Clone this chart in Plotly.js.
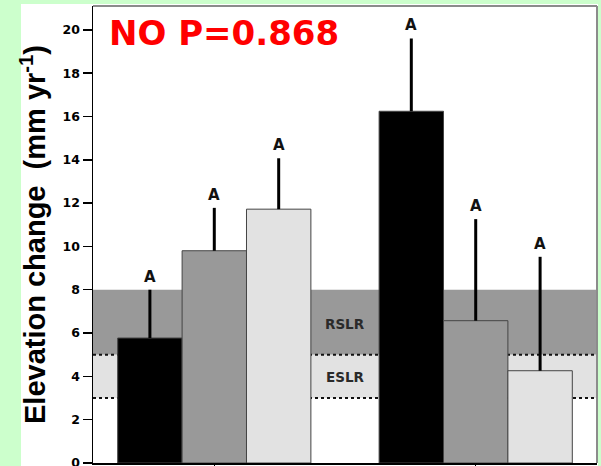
<!DOCTYPE html>
<html>
<head>
<meta charset="utf-8">
<script src="https://cdn.plot.ly/plotly-3.0.1.min.js"></script>
<style>
  html, body { margin: 0; padding: 0; background: #ccffcc; }
  #wrap { position: relative; width: 601px; height: 466px; overflow: hidden; }
  #panel { position: absolute; left: 21px; top: 4px; width: 577px; height: 462px; background: #ffffff; }
  #chart { position: absolute; left: 0; top: 0; width: 601px; height: 490px; }
</style>
</head>
<body>
<div id="wrap">
  <div id="panel"></div>
  <div id="chart"></div>
</div>
<script>
// Two site groups, three treatments each (black, dark grey, light grey)
const groups = [0, 1];
const seriesNames = ['Treatment 1', 'Treatment 2', 'Treatment 3'];
const seriesColors = ['#000000', '#999999', '#e2e2e2'];
const meanT1 = [5.77, 16.24];
const meanT2 = [9.80, 6.57];
const meanT3 = [11.72, 4.26];
const errT1 = [2.23, 3.36];
const errT2 = [1.98, 4.69];
const errT3 = [2.35, 5.26];
const letters = [['A', 'A'], ['A', 'A'], ['A', 'A']];
const yTicks = [0, 2, 4, 6, 8, 10, 12, 14, 16, 18, 20];
// sea-level-rise reference bands
const rslrBand = [5, 8];
const eslrBand = [3, 5];
const titleText = 'NO P=0.868';

const means = [meanT1, meanT2, meanT3];
const errs = [errT1, errT2, errT3];
const bargap = 0.261;
const barW = (1 - bargap) / 3;

const traces = means.map((m, i) => ({
  type: 'bar',
  name: seriesNames[i],
  x: groups,
  y: m,
  marker: { color: seriesColors[i], line: { color: '#444444', width: 1 } },
  error_y: {
    type: 'data', symmetric: false, array: errs[i],
    arrayminus: m.map(() => 0), width: 0, thickness: 3, color: '#000000'
  },
  hoverinfo: 'skip'
}));

const annotations = [];
means.forEach((m, i) => {
  m.forEach((v, g) => {
    annotations.push({
      x: groups[g] + (i - 1) * barW, y: v + errs[i][g],
      xref: 'x', yref: 'y', text: '<b>' + letters[i][g] + '</b>', showarrow: false,
      yshift: 13, font: { family: 'DejaVu Sans', size: 15, color: '#111111' }
    });
  });
});
annotations.push({
  x: 0.5, y: (rslrBand[0] + rslrBand[1]) / 2 - 0.1, xref: 'x', yref: 'y', text: '<b>RSLR</b>',
  showarrow: false, font: { family: 'DejaVu Sans', size: 13.5, color: '#2a2a2a' }
});
annotations.push({
  x: 0.5, y: (eslrBand[0] + eslrBand[1]) / 2 - 0.05, xref: 'x', yref: 'y', text: '<b>ESLR</b>',
  showarrow: false, font: { family: 'DejaVu Sans', size: 13.5, color: '#2a2a2a' }
});
annotations.push({
  x: 0.028, y: 0.941, xref: 'paper', yref: 'paper', yanchor: 'middle', xanchor: 'left',
  text: '<b>' + titleText + '</b>', showarrow: false,
  font: { family: 'DejaVu Sans', size: 34, color: '#ff0000' }
});

const shapes = [
  { type: 'rect', xref: 'paper', x0: 0, x1: 1, yref: 'y', y0: rslrBand[0], y1: rslrBand[1],
    fillcolor: '#999999', line: { width: 0 }, layer: 'below' },
  { type: 'rect', xref: 'paper', x0: 0, x1: 1, yref: 'y', y0: eslrBand[0], y1: eslrBand[1],
    fillcolor: '#e2e2e2', line: { width: 0 }, layer: 'below' },
  { type: 'line', xref: 'paper', x0: 0, x1: 1, yref: 'y', y0: eslrBand[0], y1: eslrBand[0],
    line: { color: '#111111', width: 2, dash: 'dot' }, layer: 'below' },
  { type: 'line', xref: 'paper', x0: 0, x1: 1, yref: 'y', y0: eslrBand[1], y1: eslrBand[1],
    line: { color: '#111111', width: 2, dash: 'dot' }, layer: 'below' },
  // grey frame along top and right
  { type: 'line', xref: 'paper', yref: 'paper', x0: 0, x1: 1, y0: 1, y1: 1,
    line: { color: '#8c8c8c', width: 2 } },
  { type: 'line', xref: 'paper', yref: 'paper', x0: 1, x1: 1, y0: 0, y1: 1,
    line: { color: '#8c8c8c', width: 2 } }
];

const layout = {
  width: 601, height: 490,
  margin: { l: 93, r: 4, t: 6, b: 27 },
  paper_bgcolor: 'rgba(0,0,0,0)',
  plot_bgcolor: '#ffffff',
  barmode: 'group',
  bargap: bargap,
  bargroupgap: 0,
  showlegend: false,
  xaxis: {
    type: 'linear', range: [-0.464, 1.464], tickvals: groups, showticklabels: false,
    ticks: 'outside', ticklen: 8, tickwidth: 1.5, tickcolor: '#000000',
    showline: true, linecolor: '#000000', linewidth: 1.5, showgrid: false, zeroline: false
  },
  yaxis: {
    range: [0, 21.1], tickvals: yTicks, ticktext: yTicks.map(t => '<b>' + t + '</b>'),
    ticks: 'outside', ticklen: 9, tickwidth: 1.5, tickcolor: '#000000',
    showline: true, linecolor: '#000000', linewidth: 1.5, showgrid: false, zeroline: false,
    tickfont: { family: 'DejaVu Sans', size: 12.5, color: '#000000' },
    title: {
      text: 'Elevation change  (mm yr<sup>-1</sup>)', standoff: 8,
      font: { family: 'Liberation Sans, Arial', size: 29, color: '#000000', weight: 'bold' }
    }
  },
  shapes: shapes,
  annotations: annotations
};

Plotly.newPlot('chart', traces, layout, { displayModeBar: false, staticPlot: true });
</script>
</body>
</html>
